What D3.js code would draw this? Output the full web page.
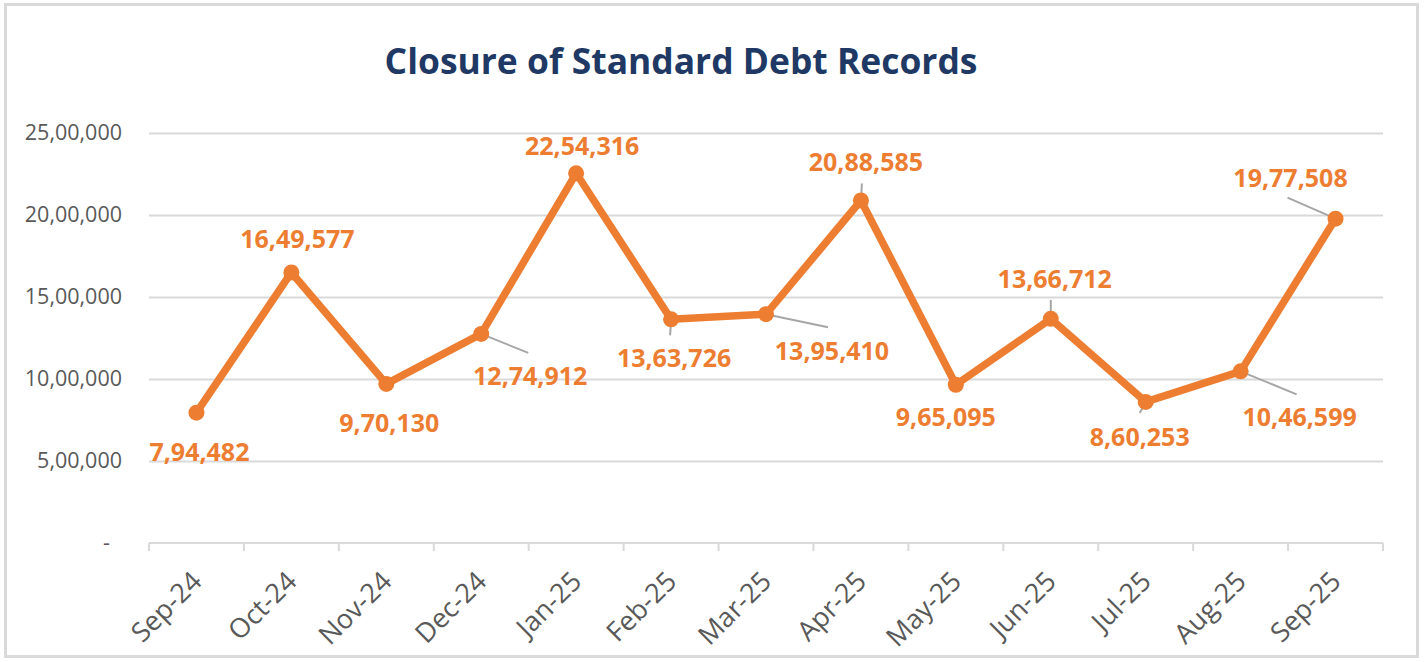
<!DOCTYPE html>
<html>
<head>
<meta charset="utf-8">
<script src="https://cdn.jsdelivr.net/npm/d3@7"></script>
<style>
  html, body { margin: 0; padding: 0; background: #ffffff; }
  svg { display: block; }
</style>
</head>
<body>
<svg id="chart" width="1428" height="662"></svg>
<script>
// ---- data ----
const categories = ["Sep-24","Oct-24","Nov-24","Dec-24","Jan-25","Feb-25","Mar-25","Apr-25","May-25","Jun-25","Jul-25","Aug-25","Sep-25"];
const closures = [794482, 1649577, 970130, 1274912, 2254316, 1363726, 1395410, 2088585, 965095, 1366712, 860253, 1046599, 1977508];
const yTickValues = [0, 500000, 1000000, 1500000, 2000000, 2500000];
const yTickLabels = ["-", "5,00,000", "10,00,000", "15,00,000", "20,00,000", "25,00,000"];
const titleText = "Closure of Standard Debt Records";

// ---- label placement (pixel offsets from each point) ----
const labelOffsets = [[3,39],[6,-33],[3,39],[49,42],[6,-27],[3,39],[66,37],[5,-38],[-10,32],[4,-40],[-6,35],[59,46],[-45,-41]];
const leaderEnds = [null,null,null,[47,19],null,[-1,16],[62,13],[1,-17],null,[0,-19],[-6,11],[56,23],[-48,-21]];

// ---- styles ----
const ORANGE = "#ED7D31";
const GRID = "#D9D9D9";
const AXIS_TEXT = "#595959";
const TITLE = "#203864";
const FONT = "'Open Sans', 'Noto Sans', sans-serif";

function indianFormat(n) {
  const s = String(Math.round(n));
  if (s.length <= 3) return s;
  const last3 = s.slice(-3);
  let rest = s.slice(0, -3);
  const parts = [];
  while (rest.length > 2) { parts.unshift(rest.slice(-2)); rest = rest.slice(0, -2); }
  if (rest.length) parts.unshift(rest);
  return parts.join(",") + "," + last3;
}

const svg = d3.select("#chart");

// outer frame
svg.append("rect").attr("x", 5.5).attr("y", 4.5).attr("width", 1412).attr("height", 652)
  .attr("fill", "#fff").attr("stroke", GRID).attr("stroke-width", 3);

const x = d3.scaleBand().domain(categories).range([149, 1383]).padding(0);
const y = d3.scaleLinear().domain([0, 2500000]).range([543, 133]);
const cx = c => x(c) + x.bandwidth() / 2;

// title
const title = svg.append("text")
  .attr("x", 681).attr("y", 74)
  .attr("text-anchor", "middle")
  .attr("font-family", FONT).attr("font-weight", 700)
  .attr("font-size", 34).attr("fill", TITLE)
  .text(titleText);
const tw = title.node().getComputedTextLength();
title.attr("font-size", 34 * 593 / tw);

// gridlines (non-zero)
const yAxis = d3.axisLeft(y).tickValues(yTickValues)
  .tickSize(-(1383 - 149)).tickPadding(27)
  .tickFormat((d, i) => yTickLabels[i]);
const gy = svg.append("g").attr("transform", "translate(149,0)").call(yAxis);
gy.select(".domain").remove();
gy.selectAll(".tick line").attr("stroke", GRID).attr("stroke-width", 2)
  .attr("display", d => d === 0 ? "none" : null);
gy.selectAll(".tick text")
  .attr("font-family", FONT).attr("font-size", 21.5).attr("fill", AXIS_TEXT)
  .attr("dx", d => d === 0 ? -12 : 0);

// x axis line with boundary ticks
const gx = svg.append("g");
gx.append("line").attr("x1", 149).attr("x2", 1383).attr("y1", y(0)).attr("y2", y(0))
  .attr("stroke", GRID).attr("stroke-width", 2);
const boundaries = categories.map(c => x(c)).concat([x(categories[categories.length - 1]) + x.bandwidth()]);
gx.selectAll("line.tk").data(boundaries).join("line").attr("class", "tk")
  .attr("x1", d => d).attr("x2", d => d).attr("y1", y(0)).attr("y2", y(0) + 8)
  .attr("stroke", GRID).attr("stroke-width", 2);
gx.selectAll("text").data(categories).join("text")
  .attr("transform", c => `translate(${cx(c) + 7},${y(0) + 40}) rotate(-45)`)
  .attr("text-anchor", "end")
  .attr("font-family", FONT).attr("font-size", 27).attr("fill", AXIS_TEXT)
  .text(c => c);

// line
const line = d3.line().x((d, i) => cx(categories[i])).y(d => y(d));
svg.append("path").datum(closures).attr("d", line)
  .attr("fill", "none").attr("stroke", ORANGE).attr("stroke-width", 7.5)
  .attr("stroke-linejoin", "round").attr("stroke-linecap", "round");

// leader lines
svg.selectAll("line.leader").data(closures.map((v, i) => ({v, i})).filter(d => leaderEnds[d.i]))
  .join("line").attr("class", "leader")
  .attr("x1", d => cx(categories[d.i])).attr("y1", d => y(d.v))
  .attr("x2", d => cx(categories[d.i]) + leaderEnds[d.i][0])
  .attr("y2", d => y(d.v) + leaderEnds[d.i][1])
  .attr("stroke", "#A6A6A6").attr("stroke-width", 2);

// markers
svg.selectAll("circle.pt").data(closures).join("circle").attr("class", "pt")
  .attr("cx", (d, i) => cx(categories[i])).attr("cy", d => y(d)).attr("r", 8)
  .attr("fill", ORANGE);

// data labels
svg.selectAll("text.lbl").data(closures).join("text").attr("class", "lbl")
  .attr("x", (d, i) => cx(categories[i]) + labelOffsets[i][0])
  .attr("y", (d, i) => y(d) + labelOffsets[i][1])
  .attr("dy", "0.36em")
  .attr("text-anchor", "middle")
  .attr("font-family", FONT).attr("font-weight", 700).attr("font-size", 25)
  .attr("fill", ORANGE)
  .text(d => indianFormat(d));
</script>
</body>
</html>
